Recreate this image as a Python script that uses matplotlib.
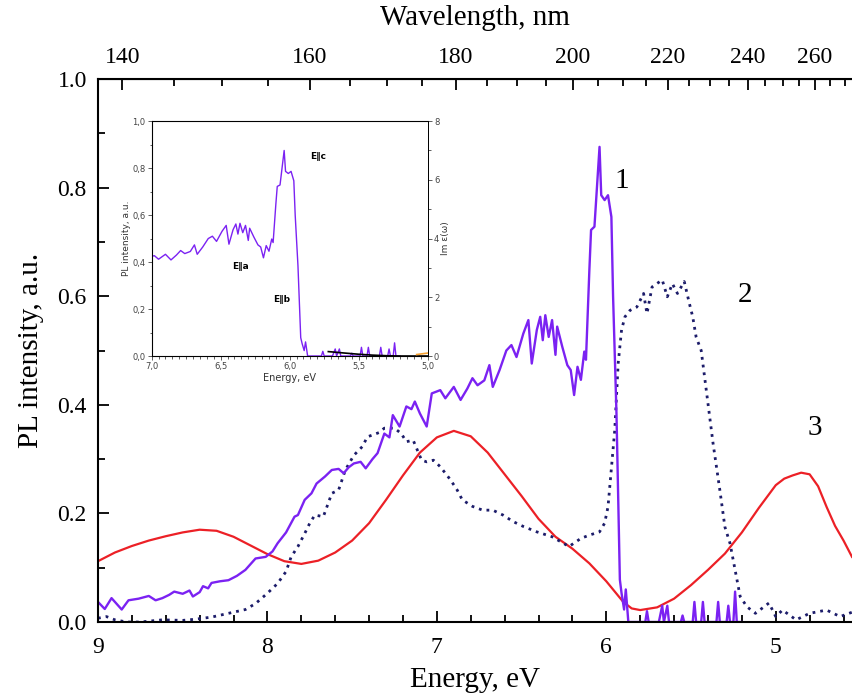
import numpy as np
import matplotlib
matplotlib.use("Agg")
import matplotlib.pyplot as plt
from matplotlib.ticker import MultipleLocator, FixedLocator, FuncFormatter

# curve 1 (purple, solid)
e1 = [9.00, 8.96, 8.92, 8.86, 8.82, 8.76, 8.70, 8.66, 8.62, 8.58, 8.55, 8.50, 8.46, 8.44,
      8.40, 8.38, 8.35, 8.33, 8.28, 8.23, 8.18, 8.13, 8.07, 8.01, 7.97, 7.94, 7.89, 7.84,
      7.82, 7.78, 7.74, 7.71, 7.66, 7.62, 7.58, 7.55, 7.52, 7.49, 7.45, 7.42, 7.38, 7.35,
      7.31, 7.28, 7.26, 7.22, 7.18, 7.15, 7.13, 7.10, 7.06, 7.03, 6.98, 6.95, 6.90, 6.86,
      6.82, 6.79, 6.76, 6.72, 6.69, 6.67, 6.63, 6.59, 6.56, 6.53, 6.49, 6.46, 6.44, 6.41,
      6.39, 6.375, 6.36, 6.34, 6.32, 6.30, 6.29, 6.26, 6.23, 6.21, 6.19, 6.17, 6.15, 6.13,
      6.12, 6.10, 6.09, 6.07, 6.04, 6.03, 6.01, 5.99, 5.97, 5.96, 5.94, 5.92, 5.91, 5.895,
      5.885, 5.87, 5.84, 5.80, 5.77, 5.76, 5.75, 5.69, 5.67, 5.66, 5.64, 5.63, 5.56, 5.55,
      5.54, 5.49, 5.48, 5.47, 5.44, 5.43, 5.42, 5.35, 5.34, 5.33, 5.29, 5.28, 5.27, 5.25,
      5.24, 5.23, 5.20]
y1 = [0.037, 0.024, 0.044, 0.023, 0.040, 0.043, 0.048, 0.040, 0.044, 0.050, 0.056, 0.052,
      0.058, 0.047, 0.055, 0.066, 0.062, 0.072, 0.075, 0.077, 0.085, 0.096, 0.117, 0.120,
      0.130, 0.145, 0.165, 0.194, 0.197, 0.225, 0.237, 0.255, 0.268, 0.280, 0.282, 0.274,
      0.285, 0.292, 0.295, 0.283, 0.300, 0.311, 0.347, 0.340, 0.381, 0.360, 0.397, 0.392,
      0.406, 0.384, 0.360, 0.421, 0.427, 0.412, 0.433, 0.409, 0.430, 0.449, 0.436, 0.445,
      0.473, 0.433, 0.464, 0.500, 0.510, 0.488, 0.531, 0.556, 0.476, 0.538, 0.562, 0.519,
      0.565, 0.525, 0.556, 0.492, 0.544, 0.507, 0.473, 0.464, 0.418, 0.470, 0.446, 0.498,
      0.483, 0.648, 0.722, 0.728, 0.875, 0.786, 0.777, 0.786, 0.746, 0.599, 0.384, 0.078,
      0.053, 0.023, 0.060, 0.0, 0.0, 0.0, 0.0, 0.02, 0.0, 0.0, 0.03, 0.0, 0.03, 0.0, 0.0,
      0.012, 0.0, 0.0, 0.037, 0.0, 0.0, 0.037, 0.0, 0.0, 0.037, 0.0, 0.0, 0.03, 0.0, 0.0,
      0.056, 0.0, 0.0]

# curve 2 (navy, dotted)
e2 = [9.00, 8.95, 8.90, 8.83, 8.75, 8.62, 8.50, 8.43, 8.33, 8.23, 8.13, 8.07, 8.00, 7.94,
      7.89, 7.86, 7.82, 7.78, 7.75, 7.72, 7.67, 7.62, 7.58, 7.54, 7.49, 7.44, 7.41, 7.34,
      7.31, 7.25, 7.21, 7.18, 7.14, 7.09, 7.06, 7.02, 6.98, 6.92, 6.88, 6.85, 6.79, 6.73,
      6.67, 6.61, 6.55, 6.49, 6.41, 6.32, 6.22, 6.15, 6.10, 6.04, 6.01, 5.99, 5.95, 5.93,
      5.91, 5.89, 5.86, 5.82, 5.78, 5.76, 5.73, 5.67, 5.64, 5.61, 5.58, 5.54, 5.51, 5.49,
      5.47, 5.44, 5.41, 5.37, 5.33, 5.30, 5.27, 5.24, 5.21, 5.17, 5.12, 5.04, 5.00, 4.96,
      4.88, 4.80, 4.70, 4.62, 4.55]
y2 = [0.007, 0.010, 0.004, 0.0, 0.0, 0.004, 0.003, 0.005, 0.009, 0.016, 0.023, 0.034,
      0.053, 0.071, 0.093, 0.120, 0.139, 0.163, 0.182, 0.197, 0.194, 0.237, 0.243, 0.280,
      0.307, 0.323, 0.341, 0.349, 0.357, 0.357, 0.347, 0.332, 0.335, 0.298, 0.295, 0.298,
      0.286, 0.262, 0.243, 0.225, 0.213, 0.206, 0.206, 0.197, 0.185, 0.176, 0.166, 0.157,
      0.139, 0.154, 0.160, 0.166, 0.182, 0.212, 0.354, 0.476, 0.538, 0.562, 0.574, 0.580,
      0.605, 0.568, 0.617, 0.630, 0.599, 0.623, 0.605, 0.627, 0.587, 0.562, 0.525, 0.500,
      0.427, 0.329, 0.243, 0.175, 0.145, 0.096, 0.047, 0.028, 0.016, 0.035, 0.010, 0.022,
      0.004, 0.016, 0.022, 0.010, 0.018]

# curve 3 (red, solid)
e3 = [9.0, 8.9, 8.8, 8.7, 8.6, 8.5, 8.4, 8.3, 8.2, 8.1, 8.0, 7.9, 7.8, 7.7, 7.6, 7.5, 7.4,
      7.3, 7.2, 7.1, 7.0, 6.9, 6.8, 6.7, 6.6, 6.5, 6.4, 6.3, 6.2, 6.1, 6.0, 5.9, 5.85, 5.8,
      5.7, 5.6, 5.5, 5.4, 5.3, 5.2, 5.1, 5.0, 4.95, 4.9, 4.85, 4.8, 4.75, 4.7, 4.65, 4.6, 4.55]
y3 = [0.112, 0.128, 0.140, 0.150, 0.158, 0.165, 0.170, 0.168, 0.157, 0.141, 0.125, 0.112,
      0.107, 0.113, 0.128, 0.150, 0.182, 0.225, 0.270, 0.312, 0.340, 0.352, 0.342, 0.312,
      0.272, 0.232, 0.190, 0.157, 0.135, 0.108, 0.075, 0.037, 0.025, 0.022, 0.027, 0.043,
      0.068, 0.096, 0.126, 0.165, 0.210, 0.252, 0.264, 0.270, 0.275, 0.272, 0.250, 0.212,
      0.177, 0.150, 0.120]

# inset: Im eps curve (black) and a short orange piece
e_eps = [5.72, 5.6, 5.5, 5.4, 5.3, 5.2, 5.1, 5.0]
y_eps = [0.15, 0.10, 0.06, 0.03, 0.01, 0.0, 0.0, 0.0]
e_org = [5.08, 5.0]
y_org = [0.05, 0.1]

wl_ticks = [140, 160, 180, 200, 220, 240, 260]

serif = "Liberation Serif"
violet = "#7b22f2"
navy = "#1c1c6a"
red = "#ec2026"

fig = plt.figure(figsize=(8.52, 6.96), dpi=100)
ax = fig.add_axes([0.115, 0.1063, 0.885, 0.7802])

ax.plot(e3, y3, color=red, lw=1.6)
ax.plot(e2, y2, color=navy, lw=2.0, ls=(0, (1, 1.8)))
ax.plot(e1, y1, color=violet, lw=1.7)

ax.set_xlim(9, 4.55)
ax.set_ylim(0, 1.0)
ax.xaxis.set_major_locator(MultipleLocator(1))
ax.xaxis.set_minor_locator(MultipleLocator(0.2))
ax.yaxis.set_major_locator(MultipleLocator(0.2))
ax.yaxis.set_minor_locator(MultipleLocator(0.1))
ax.xaxis.set_major_formatter(FuncFormatter(lambda v, p: f"{v:.0f}"))
ax.yaxis.set_major_formatter(FuncFormatter(lambda v, p: f"{v:.1f}"))
ax.tick_params(which="both", direction="in", labelsize=17, width=1.3, pad=8)
ax.tick_params(axis="x", pad=11)
ax.tick_params(which="major", length=8)
ax.tick_params(which="minor", length=5)
ax.tick_params(axis="y", right=False)
for lab in ax.get_xticklabels() + ax.get_yticklabels():
    lab.set_fontfamily(serif)
for s in ["left", "bottom", "top"]:
    ax.spines[s].set_linewidth(1.5)
ax.spines["right"].set_visible(False)

ax.set_xlabel("Energy, eV", fontsize=21, family=serif, labelpad=6)
ax.set_ylabel("PL intensity, a.u.", fontsize=21, family=serif, labelpad=10)

# wavelength axis on top
def to_nm(e):
    e = np.asarray(e, dtype=float)
    with np.errstate(divide="ignore"):
        return 1239.84 / e

sec = ax.secondary_xaxis("top", functions=(to_nm, to_nm))
sec.xaxis.set_major_locator(FixedLocator(wl_ticks))
sec.xaxis.set_minor_locator(MultipleLocator(5))
sec.tick_params(which="both", direction="in", labelsize=17, width=1.3, pad=8)
sec.tick_params(which="major", length=8)
sec.tick_params(which="minor", length=5)
for lab in sec.get_xticklabels():
    lab.set_fontfamily(serif)
sec.set_xlabel("Wavelength, nm", fontsize=21, family=serif, labelpad=16)

ax.text(5.91, 0.80, "1", fontsize=21, family=serif, ha="center")
ax.text(5.18, 0.59, "2", fontsize=21, family=serif, ha="center")
ax.text(4.77, 0.345, "3", fontsize=21, family=serif, ha="center")

# inset
ins = fig.add_axes([0.178, 0.4885, 0.324, 0.3375])
ins.plot(e1, y1, color=violet, lw=1.0)
ins.set_xlim(7.0, 5.0)
ins.set_ylim(0, 1.0)
ins.xaxis.set_major_locator(MultipleLocator(0.5))
ins.xaxis.set_minor_locator(MultipleLocator(0.05))
ins.yaxis.set_major_locator(MultipleLocator(0.2))
ins.yaxis.set_minor_locator(MultipleLocator(0.1))
ins.xaxis.set_major_formatter(FuncFormatter(lambda v, p: f"{v:.1f}".replace(".", ",")))
ins.yaxis.set_major_formatter(FuncFormatter(lambda v, p: f"{v:.1f}".replace(".", ",")))
ins.tick_params(which="both", direction="out", labelsize=6, colors="#444444", width=0.6, pad=1.5)
ins.tick_params(which="major", length=3)
ins.tick_params(which="minor", length=1.8)
for s in ins.spines.values():
    s.set_linewidth(0.7)
    s.set_color("#333333")
ins.set_xlabel("Energy, eV", fontsize=7, labelpad=1, color="#333333")
ins.set_ylabel("PL intensity, a.u.", fontsize=6.5, labelpad=1, color="#333333")

ins2 = ins.twinx()
ins2.plot(e_eps, y_eps, color="black", lw=1.2)
ins2.plot(e_org, y_org, color="#f5a030", lw=1.2)
ins2.set_ylim(0, 8)
ins2.yaxis.set_major_locator(MultipleLocator(2))
ins2.yaxis.set_minor_locator(MultipleLocator(1))
ins2.tick_params(which="both", direction="out", labelsize=6, colors="#444444", width=0.6, pad=1.5)
ins2.tick_params(which="major", length=3)
ins2.tick_params(which="minor", length=1.8)
ins2.set_ylabel("Im ε(ω)", fontsize=6.5, labelpad=1, color="#333333")
ins2.spines["right"].set_linewidth(0.7)

ins.text(5.85, 0.84, "E‖c", fontsize=6.5, weight="bold")
ins.text(6.42, 0.37, "E‖a", fontsize=6.5, weight="bold")
ins.text(6.12, 0.23, "E‖b", fontsize=6.5, weight="bold")

fig.savefig("out.png", dpi=100)
